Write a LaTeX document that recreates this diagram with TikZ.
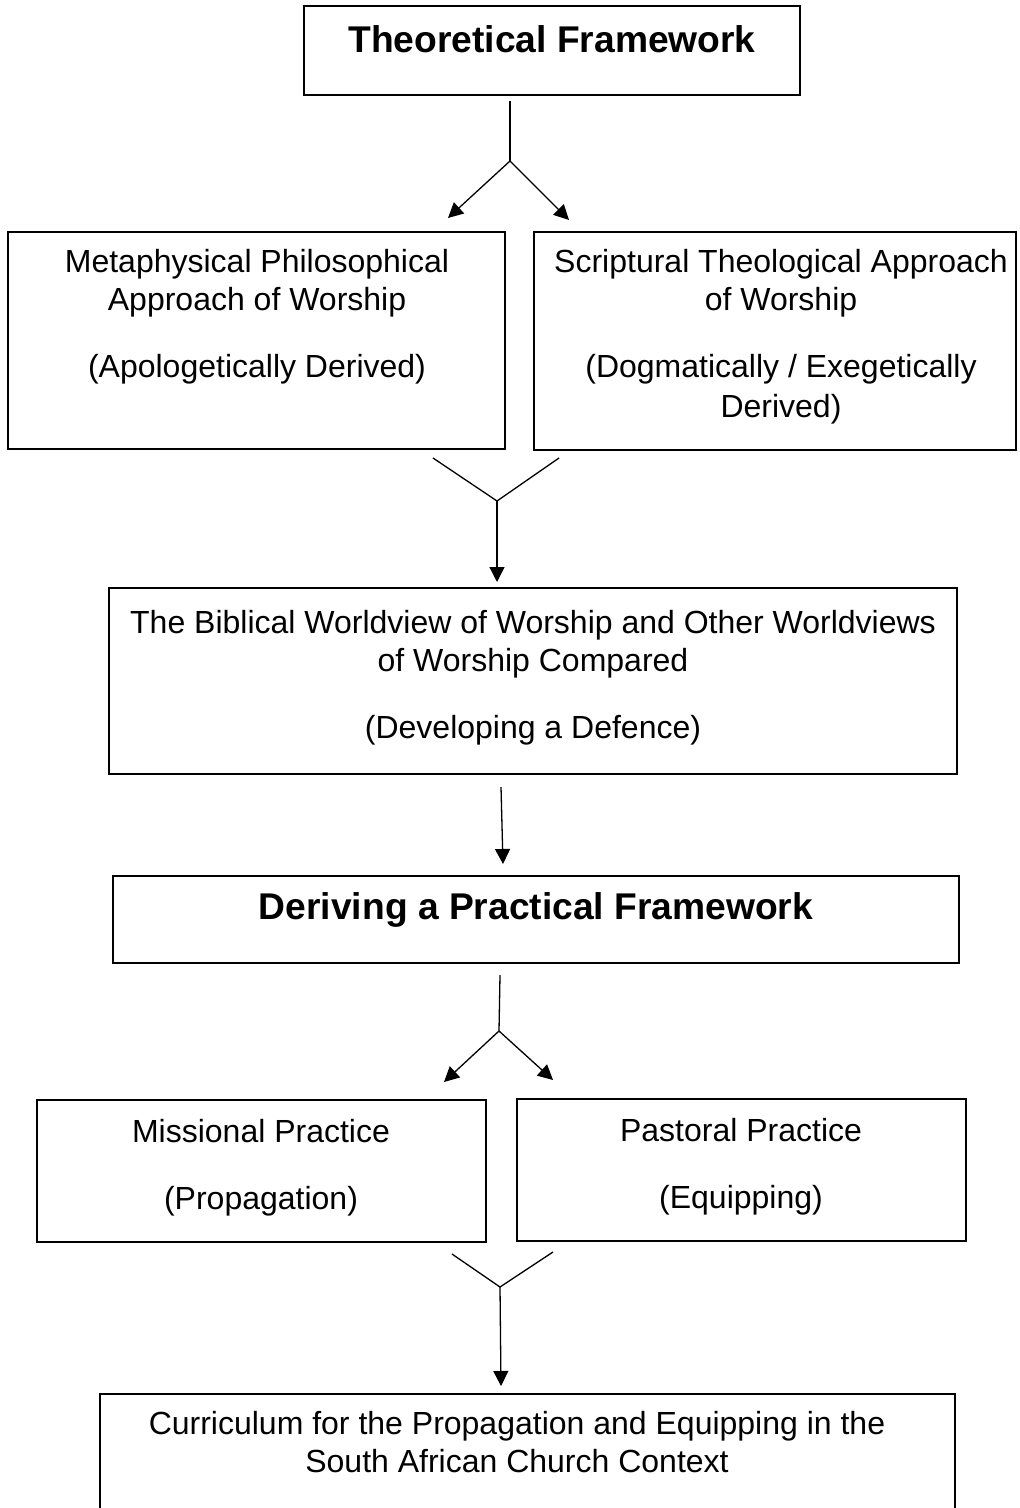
\documentclass[tikz,border=0pt]{standalone}
\usepackage{fontspec}
\setmainfont{Liberation Sans}
\usetikzlibrary{arrows.meta, fit}

\tikzset{
  frame/.style={draw, line width=1.2pt, inner sep=0pt},
  txt/.style={anchor=base, inner sep=0pt, font=\fontsize{16}{19}\selectfont},
  head/.style={anchor=base, inner sep=0pt, font=\fontsize{18.6}{22}\selectfont\bfseries},
  link/.style={line width=0.65pt},
  arr/.style={link, -{Triangle[length=7.5pt, width=7.5pt]}}
}

\begin{document}
\begin{tikzpicture}[x=0.5pt, y=-0.5pt]
  \clip (0,0) rectangle (1019,1508);
  % boxes
  \foreach \b/\l/\t/\r/\d in {
    theory/304/6/800/95,
    meta/8/232/505/449,
    scrip/534/232/1016/450,
    biblical/109/588/957/774,
    practical/113/876/959/963,
    missional/37/1100/486/1242,
    pastoral/517/1099/966/1241,
    curriculum/100/1394/955/1530
  } {
    \node[frame, fit={(\l,\t) (\r,\d)}] (\b) {};
  }
  % headings
  \node[head] (theorytxt) at (552,53) {Theoretical Framework};
  \node[head] (practicaltxt) at (536,919) {Deriving a Practical Framework};
  % text lines
  \foreach \n/\x/\y/\t in {
    meta1/257/273/{Metaphysical Philosophical},
    meta2/257/311/{Approach of Worship},
    meta3/257/378/{(Apologetically Derived)},
    scrip1/781/273/{Scriptural Theological Approach},
    scrip2/781/311/{of Worship},
    scrip3/781/378/{(Dogmatically / Exegetically},
    scrip4/781/417/{Derived)},
    biblical1/533/633/{The Biblical Worldview of Worship and Other Worldviews},
    biblical2/533/671/{of Worship Compared},
    biblical3/533/738/{(Developing a Defence)},
    missional1/261/1142/{Missional Practice},
    missional2/261/1209/{(Propagation)},
    pastoral1/741/1141/{Pastoral Practice},
    pastoral2/741/1208/{(Equipping)},
    curriculum1/517/1434/{Curriculum for the Propagation and Equipping in the},
    curriculum2/517/1472/{South African Church Context}
  } {
    \node[txt] (\n) at (\x,\y) {\t};
  }
  % connector points
  \coordinate (a1) at (510,101);
  \coordinate (j1) at (510,161);
  \coordinate (a1l) at (448,218);
  \coordinate (a1r) at (569,220);
  \coordinate (m1l) at (433,458);
  \coordinate (m1r) at (559,458);
  \coordinate (j2) at (497,501);
  \coordinate (a2) at (497,582);
  \coordinate (a3s) at (501,787);
  \coordinate (a3) at (503,864);
  \coordinate (b1) at (500,975);
  \coordinate (j3) at (499,1031);
  \coordinate (b1l) at (444,1082);
  \coordinate (b1r) at (553,1080);
  \coordinate (m2l) at (452,1254);
  \coordinate (m2r) at (553,1252);
  \coordinate (j4) at (500,1287);
  \coordinate (a4) at (501,1386);
  % connectors
  \draw[link] (a1) -- (j1);
  \draw[arr] (j1) -- (a1l);
  \draw[arr] (j1) -- (a1r);
  \draw[link] (m1l) -- (j2) -- (m1r);
  \draw[arr] (j2) -- (a2);
  \draw[arr] (a3s) -- (a3);
  \draw[link] (b1) -- (j3);
  \draw[arr] (j3) -- (b1l);
  \draw[arr] (j3) -- (b1r);
  \draw[link] (m2l) -- (j4) -- (m2r);
  \draw[arr] (j4) -- (a4);
\end{tikzpicture}
\end{document}
